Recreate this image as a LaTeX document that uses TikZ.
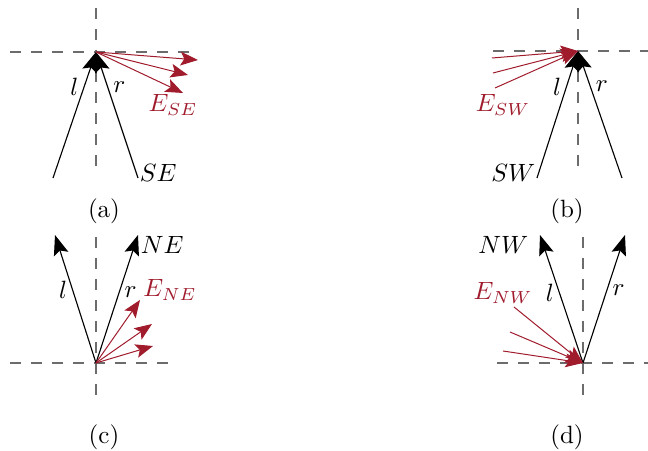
\documentclass[tikz,border=0pt]{standalone}
\usepackage{amsmath}
\usepackage{tikz}
\usetikzlibrary{positioning,arrows.meta}
\definecolor{vecred}{RGB}{160,28,45}

\begin{document}
\begin{tikzpicture}[
            x=0.4pt, y=-0.4pt,
            axis/.style={
                gray!85!black,
                line width=0.6pt,
                dash pattern=on 4.4pt off 4pt
            },
            vec/.style={line width=0.45pt, -{Stealth[length=8pt,width=6pt,inset=1.5pt]}},
            evec/.style={vecred, -{Stealth[length=7pt,width=5.5pt,inset=1.5pt]}},
            side/.style={inner sep=2pt},
            elabel/.style={text=vecred}
        ]
        \useasboundingbox (0,0) rectangle (648,451);

        % (a) SE
        \coordinate (oa) at (96,52);
        \coordinate (la) at (53,178);
        \coordinate (ra) at (138,178);
        \coordinate (ea1) at (198,60);
        \coordinate (ea2) at (188,75);
        \coordinate (ea3) at (183,93);
        \draw[axis] (96,8) -- (96,172);
        \draw[axis] (10,52) -- (197,52);
        \draw[vec] (la) -- node[side, pos=0.72, left]{$l$} (oa);
        \draw[vec] (ra) -- node[side, pos=0.72, right]{$r$} (oa);
        \draw[evec] (oa) -- (ea1);
        \draw[evec] (oa) -- (ea2);
        \draw[evec] (oa) -- (ea3);
        \node[anchor=west, inner sep=0.5pt] (sea) at (ra) [yshift=2pt] {$SE$};
        \node[elabel] (esea) at (173,105) {$E_{SE}$};
        \node (capa) at (104,211) {(a)};

        % (b) SW
        \coordinate (ob) at (578,51);
        \coordinate (lb) at (537,178);
        \coordinate (rb) at (622,178);
        \coordinate (eb1) at (492,58);
        \coordinate (eb2) at (493,73);
        \coordinate (eb3) at (495,88);
        \draw[axis] (578,8) -- (578,172);
        \draw[axis] (493,51) -- (648,51);
        \draw[vec] (lb) -- node[side, pos=0.72, left]{$l$} (ob);
        \draw[vec] (rb) -- node[side, pos=0.72, right]{$r$} (ob);
        \draw[evec] (eb1) -- (ob);
        \draw[evec] (eb2) -- (ob);
        \draw[evec] (eb3) -- (ob);
        \node[anchor=east, inner sep=0.5pt] (swb) at (lb) [yshift=2pt] {$SW$};
        \node[elabel] (eswb) at (503,105) {$E_{SW}$};
        \node (capb) at (567,211) {(b)};

        % (c) NE
        \coordinate (oc) at (96,363);
        \coordinate (lc) at (55,235);
        \coordinate (rc) at (138,235);
        \coordinate (ec1) at (140,300);
        \coordinate (ec2) at (152,324);
        \coordinate (ec3) at (153,346);
        \draw[axis] (96,237) -- (96,395);
        \draw[axis] (10,363) -- (172,363);
        \draw[vec] (oc) -- node[side, pos=0.57, left]{$l$} (lc);
        \draw[vec] (oc) -- node[side, pos=0.55, right]{$r$} (rc);
        \draw[evec] (oc) -- (ec1);
        \draw[evec] (oc) -- (ec2);
        \draw[evec] (oc) -- (ec3);
        \node[anchor=west, inner sep=0.5pt] (nec) at (139,245) {$NE$};
        \node[elabel] (enec) at (170,290) {$E_{NE}$};
        \node (capc) at (104,437) {(c)};

        % (d) NW
        \coordinate (od) at (583,363);
        \coordinate (ld) at (540,235);
        \coordinate (rd) at (625,235);
        \coordinate (ed1) at (514,307);
        \coordinate (ed2) at (510,332);
        \coordinate (ed3) at (503,351);
        \draw[axis] (583,237) -- (583,395);
        \draw[axis] (497,363) -- (648,363);
        \draw[vec] (od) -- node[side, pos=0.55, left]{$l$} (ld);
        \draw[vec] (od) -- node[side, pos=0.57, right]{$r$} (rd);
        \draw[evec] (ed1) -- (od);
        \draw[evec] (ed2) -- (od);
        \draw[evec] (ed3) -- (od);
        \node[anchor=east, inner sep=0.5pt] (nwd) at (530,245) {$NW$};
        \node[elabel] (enwd) at (503,293) {$E_{NW}$};
        \node (capd) at (567,437) {(d)};

        \end{tikzpicture}
\end{document}
